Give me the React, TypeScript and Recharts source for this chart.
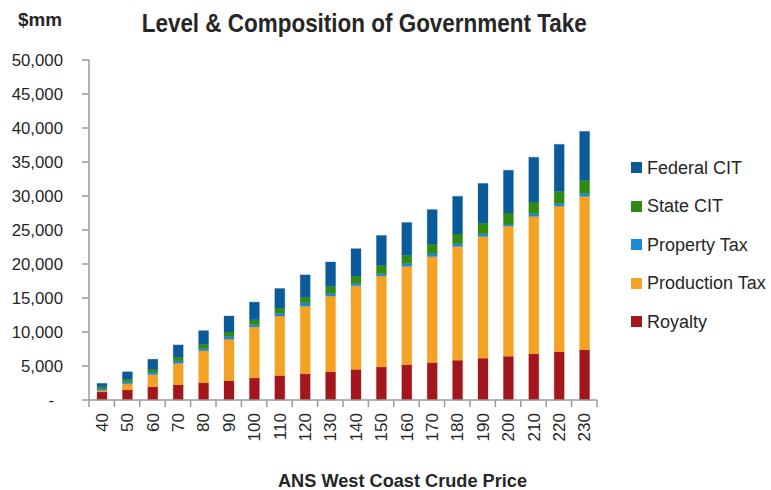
import React from 'react';
import { BarChart, Bar, XAxis, YAxis } from 'recharts';

const prices = [40, 50, 60, 70, 80, 90, 100, 110, 120, 130, 140, 150, 160, 170, 180, 190, 200, 210, 220, 230];
const royalty = [1200, 1500, 1950, 2250, 2550, 2850, 3250, 3600, 3850, 4150, 4500, 4850, 5200, 5500, 5850, 6150, 6450, 6800, 7100, 7400];
const productionTax = [200, 900, 1800, 3150, 4700, 6100, 7500, 8750, 9950, 11150, 12300, 13400, 14450, 15600, 16750, 17900, 19150, 20200, 21400, 22550];
const propertyTax = [250, 300, 350, 350, 300, 450, 350, 400, 500, 400, 350, 350, 450, 500, 400, 400, 300, 400, 400, 450];
const stateCIT = [300, 350, 450, 550, 650, 600, 700, 750, 800, 1000, 1050, 1200, 1200, 1300, 1400, 1550, 1600, 1700, 1800, 1900];
const federalCIT = [500, 1100, 1450, 1800, 2000, 2350, 2600, 2900, 3300, 3600, 4050, 4400, 4800, 5100, 5550, 5850, 6300, 6600, 6900, 7200];
const yTicks = [0, 5000, 10000, 15000, 20000, 25000, 30000, 35000, 40000, 45000, 50000];

const seriesList = [
  { key: 'royalty', name: 'Royalty', color: '#A3171C', values: royalty },
  { key: 'production', name: 'Production Tax', color: '#F4A224', values: productionTax },
  { key: 'property', name: 'Property Tax', color: '#1E88D8', values: propertyTax },
  { key: 'state', name: 'State CIT', color: '#2E8A10', values: stateCIT },
  { key: 'federal', name: 'Federal CIT', color: '#0B5B9B', values: federalCIT },
];

const data = prices.map((p, i) => {
  const row: any = { price: String(p) };
  seriesList.forEach((s) => { row[s.key] = s.values[i]; });
  return row;
});

const W = 771;
const H = 490;
const PLOT_LEFT = 89;
const PLOT_RIGHT = 597;
const PLOT_TOP = 60;
const PLOT_BOTTOM = 400;
const BAND = (PLOT_RIGHT - PLOT_LEFT) / prices.length;
const FONT = '"Liberation Sans", Arial, sans-serif';
const TEXT = '#262626';
const AXIS = '#9a9a9a';

const fmt = (v: number) => v.toLocaleString('en-US');

const YTick = (props: any) => {
  const { x, y, payload } = props;
  const isZero = payload.value === 0;
  return (
    <text x={isZero ? x - 9 : x} y={y} dy={6} textAnchor="end" fill={TEXT} fontSize={16.8} fontFamily={FONT}>
      {isZero ? '-' : fmt(payload.value)}
    </text>
  );
};

const XTick = (props: any) => {
  const { x, payload, index } = props;
  const last = index === prices.length - 1;
  return (
    <g>
      <line x1={x - BAND / 2} x2={x - BAND / 2} y1={PLOT_BOTTOM} y2={PLOT_BOTTOM + 7} stroke={AXIS} strokeWidth={1.5} />
      {last && <line x1={x + BAND / 2} x2={x + BAND / 2} y1={PLOT_BOTTOM} y2={PLOT_BOTTOM + 7} stroke={AXIS} strokeWidth={1.5} />}
      <text
        x={x + 6}
        y={PLOT_BOTTOM + 13}
        transform={`rotate(-90 ${x + 6} ${PLOT_BOTTOM + 13})`}
        textAnchor="end"
        fill={TEXT}
        fontSize={17}
        fontFamily={FONT}
      >
        {payload.value}
      </text>
    </g>
  );
};

const LegendBox = () => {
  const items = [...seriesList].reverse();
  return (
    <div style={{ position: 'absolute', left: 631, top: 148.5, width: 140, fontFamily: FONT }}>
      {items.map((s) => (
        <div key={s.key} style={{ display: 'flex', alignItems: 'center', height: 38.5 }}>
          <div style={{ width: 11, height: 11, background: s.color, marginRight: 5, flexShrink: 0 }} />
          <span style={{ fontSize: 18, color: TEXT, lineHeight: '20px', whiteSpace: 'nowrap' }}>{s.name}</span>
        </div>
      ))}
    </div>
  );
};

export default function App() {
  return (
    <div style={{ position: 'absolute', left: 0, top: 0, width: W, height: H, background: '#fff' }}>
      <BarChart
        width={W}
        height={H}
        data={data}
        margin={{ top: PLOT_TOP, right: W - PLOT_RIGHT, bottom: 40, left: 9 }}
        barSize={10}
      >
        <XAxis
          dataKey="price"
          height={H - PLOT_BOTTOM - 40}
          axisLine={{ stroke: AXIS, strokeWidth: 1.5 }}
          tickLine={false}
          tick={<XTick />}
          interval={0}
        />
        <YAxis
          width={80}
          domain={[0, 50000]}
          ticks={yTicks}
          interval={0}
          axisLine={{ stroke: AXIS, strokeWidth: 1.5 }}
          tickLine={{ stroke: AXIS, strokeWidth: 1.5 }}
          tickSize={7}
          tickMargin={19}
          tick={<YTick />}
        />
        {seriesList.map((s) => (
          <Bar
            key={s.key}
            dataKey={s.key}
            name={s.name}
            stackId="a"
            fill={s.color}
            stroke={s.color}
            strokeOpacity={0.35}
            strokeWidth={0.8}
            isAnimationActive={false}
          />
        ))}
      </BarChart>
      <LegendBox />
      <svg width={W} height={H} style={{ position: 'absolute', left: 0, top: 0, pointerEvents: 'none' }}>
        <text x={141.7} y={32} fontFamily={FONT} fontWeight="bold" fontSize={25} fill={TEXT} textLength={445} lengthAdjust="spacingAndGlyphs">
          Level &amp; Composition of Government Take
        </text>
        <text x={18} y={26} fontFamily={FONT} fontWeight="bold" fontSize={18} fill={TEXT} textLength={44} lengthAdjust="spacingAndGlyphs">
          $mm
        </text>
        <text x={278} y={487} fontFamily={FONT} fontWeight="bold" fontSize={18.5} fill={TEXT} textLength={249} lengthAdjust="spacingAndGlyphs">
          ANS West Coast Crude Price
        </text>
      </svg>
    </div>
  );
}
